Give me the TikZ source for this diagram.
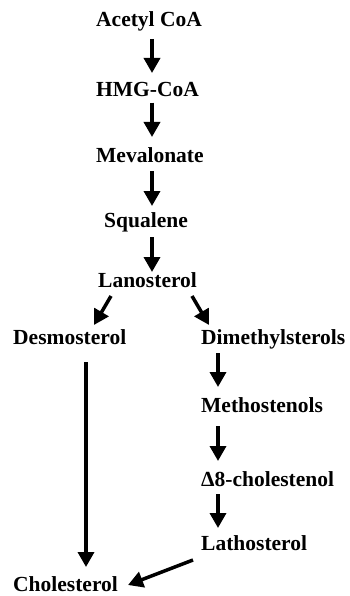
\documentclass[tikz,border=0pt]{standalone}
\usepackage{fontspec}
\setmainfont{Liberation Serif}
\usetikzlibrary{arrows.meta,calc}
\begin{document}
\begin{tikzpicture}[x=1pt,y=-1pt,
  lbl/.style={anchor=base west,inner sep=0pt,font=\fontsize{21.5}{24}\selectfont\bfseries},
  arr/.style={line width=3.5pt,-{Triangle[width=16pt,length=15pt]}}]
\useasboundingbox[fill=white] (0,0) rectangle (350,596);
\node[lbl] (acetyl) at (96,27) {Acetyl CoA};
\node[lbl] (hmg) at (96,96.7) {HMG-CoA};
\node[lbl] (mev) at (96,162) {Mevalonate};
\node[lbl] (squ) at (104,227) {Squalene};
\node[lbl] (lano) at (98,287) {Lanosterol};
\node[lbl] (desmo) at (13,344) {Desmosterol};
\node[lbl] (dimeth) at (201,344) {Dimethylsterols};
\node[lbl] (metho) at (201,412) {Methostenols};
\node[lbl] (delta) at (201,486) {Δ8-cholestenol};
\node[lbl] (latho) at (201,550) {Lathosterol};
\node[lbl] (chol) at (13,591) {Cholesterol};
\draw[arr] ($(acetyl.base west)+(56,12)$) -- ($(hmg.base west)+(56,-23.7)$);
\draw[arr] ($(hmg.base west)+(56,6)$) -- ($(mev.base west)+(56,-25)$);
\draw[arr] ($(mev.base west)+(56,9)$) -- ($(squ.base west)+(48,-21)$);
\draw[arr] ($(squ.base west)+(48,10)$) -- ($(lano.base west)+(54,-15)$);
\draw[arr] ($(lano.base west)+(13,9)$) -- ($(desmo.base west)+(81,-19)$);
\draw[arr] ($(lano.base west)+(94,9)$) -- ($(dimeth.base west)+(8,-19)$);
\draw[arr] ($(desmo.base west)+(73,18)$) -- ($(chol.base west)+(73,-24)$);
\draw[arr] ($(dimeth.base west)+(17,9)$) -- ($(metho.base west)+(17,-25)$);
\draw[arr] ($(metho.base west)+(17,14)$) -- ($(delta.base west)+(17,-25)$);
\draw[arr] ($(delta.base west)+(17,8)$) -- ($(latho.base west)+(17,-22)$);
\draw[arr] ($(latho.base west)+(-8,10)$) -- ($(chol.base west)+(115,-6)$);
\end{tikzpicture}
\end{document}
